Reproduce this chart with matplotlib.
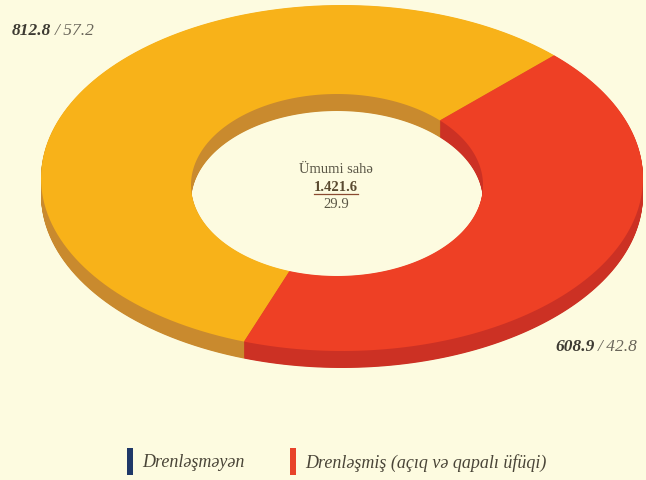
import matplotlib.pyplot as plt
from matplotlib.patches import Polygon, Rectangle
import numpy as np

# values
areas = [812.8, 608.9]
shares = [57.2, 42.8]
total_label = "1.421.6"
total_share = "29.9"
center_title = "Ümumi sahə"
legend_labels = ["Drenləşməyən", "Drenləşmiş (açıq və qapalı üfüqi)"]

top_colors = ["#F8B219", "#EE4025"]
side_colors = ["#C98A2E", "#CC3124"]
legend_colors = ["#1F3868", "#E8432A"]
BG = "#FDFBE0"

W, H = 646, 481
fig = plt.figure(figsize=(W / 100, H / 100), dpi=100, facecolor=BG)
ax = fig.add_axes([0, 0, 1, 1])
ax.set_xlim(0, W)
ax.set_ylim(H, 0)
ax.axis("off")
ax.patch.set_alpha(0)

# tilted ring: outer and inner ellipse (inner sits a bit lower, perspective)
outer = (342, 179, 301, 173)
inner = (337, 186, 146, 91)
thick = 17
start = -109  # degrees, segments run clockwise


def ring_segment(t1, t2, dy):
    th = np.deg2rad(np.linspace(t1, t2, 120))
    ox, oy, orx, ory = outer
    ix, iy, irx, iry = inner
    xo = ox + orx * np.cos(th)
    yo = oy - ory * np.sin(th) + dy
    xi = ix + irx * np.cos(th[::-1])
    yi = iy - iry * np.sin(th[::-1]) + dy
    return np.column_stack([np.r_[xo, xi], np.r_[yo, yi]])


fracs = np.array(areas) / np.sum(areas)
edges = start - 360 * np.r_[0, np.cumsum(fracs)]

for dy in np.linspace(thick, 0.5, 30):
    for i, col in enumerate(side_colors):
        ax.add_patch(Polygon(ring_segment(edges[i], edges[i + 1], dy),
                             closed=True, fc=col, ec="none"))
for i, col in enumerate(top_colors):
    ax.add_patch(Polygon(ring_segment(edges[i], edges[i + 1], 0),
                         closed=True, fc=col, ec="none"))

serif = ["Liberation Serif", "DejaVu Serif"]


def value_label(x, y, area, share):
    t1 = ax.text(x, y, "%.1f" % area, family=serif, style="italic", weight="bold",
                 fontsize=12.5, color="#3d3a32", ha="left", va="center")
    fig.canvas.draw()
    w = t1.get_window_extent().width
    ax.text(x + w + 3, y, "/ %.1f" % share, family=serif, style="italic",
            fontsize=12.5, color="#6a665a", ha="left", va="center")


value_label(12, 31, areas[0], shares[0])
value_label(555, 347, areas[1], shares[1])

ax.text(336, 170, center_title, family=serif, fontsize=10.5, color="#5a5646",
        ha="center", va="center")
tot = ax.text(336, 188, total_label, family=serif, weight="bold", fontsize=10.5,
              color="#5a4a30", ha="center", va="center")
fig.canvas.draw()
w = tot.get_window_extent().width
ax.plot([336 - w / 2, 336 + w / 2], [195, 195], color="#8a4a30", lw=0.9)
ax.text(336, 205, total_share, family=serif, fontsize=10.5, color="#5a5646",
        ha="center", va="center")

# legend
for lx, lab, col in zip([127, 290], legend_labels, legend_colors):
    ax.add_patch(Rectangle((lx, 449), 6, 27, color=col, lw=0))
    ax.text(lx + 15, 463, lab, family=serif, style="italic", fontsize=13,
            color="#4a4538", ha="left", va="center")

fig.savefig("out.png", dpi=100, facecolor=BG)
